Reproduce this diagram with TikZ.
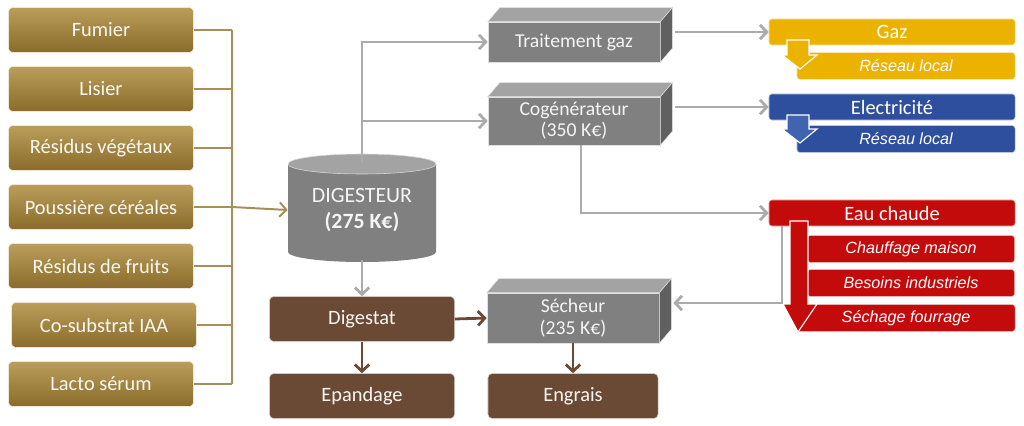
\documentclass[tikz,border=0pt]{standalone}
\usepackage{fontspec}
\setmainfont{Carlito}
\newfontfamily\arialit{Liberation Sans}
\usetikzlibrary{arrows.meta,calc}

\definecolor{goldtop}{HTML}{BA9E5A}
\definecolor{goldbot}{HTML}{8A6B2B}
\definecolor{goldline}{HTML}{A88F58}
\definecolor{greyfront}{HTML}{808080}
\definecolor{greytop}{HTML}{A3A3A3}
\definecolor{greyside}{HTML}{606060}
\definecolor{greyline}{HTML}{ABABAB}
\definecolor{browncol}{HTML}{6B4A35}
\definecolor{gazcol}{HTML}{EBB300}
\definecolor{eleccol}{HTML}{2E4F9E}
\definecolor{elecarrow}{HTML}{4064B0}
\definecolor{eaucol}{HTML}{C30B0B}

\tikzset{
  goldbox/.style={rounded corners=3pt, top color=goldtop, bottom color=goldbot, draw=white!75!goldtop,
    text=white!92!goldtop, minimum width=4.625cm, minimum height=1.125cm, font=\fontsize{14.5}{16}\selectfont},
  greybox/.style={fill=greyfront, draw=white!75!greyfront, text=white!92!greyfront, minimum width=4.3cm,
    align=center, font=\fontsize{14}{15}\selectfont},
  brownbox/.style={rounded corners=3pt, fill=browncol, draw=white!70!browncol, text=white!95!browncol,
    minimum height=1.125cm, font=\fontsize{14.5}{16}\selectfont},
  bar/.style={rounded corners=2pt, fill=#1, draw=white!70!#1, text=white, minimum width=6.15cm,
    minimum height=0.65cm, inner sep=0pt, font=\fontsize{14.5}{16}\selectfont},
  subbar/.style={rounded corners=2pt, fill=#1, draw=white!70!#1, text=white, minimum height=0.67cm,
    inner sep=0pt, font=\arialit\itshape\fontsize{11.5}{13}\selectfont},
  goldwire/.style={goldline, line width=1.4pt},
  garrow/.style={greyline, line width=2pt, -{Straight Barb[length=1.7mm,width=3.6mm]}},
  barrow/.style={browncol, line width=2pt, -{Straight Barb[length=1.7mm,width=3.6mm]}},
  blockarrow/.style={fill=#1, draw=white, line width=0.8pt, line join=miter}
}

\newcommand{\boxfaces}[1]{%
  \filldraw[fill=greytop, draw=white!75!greyfront] (#1.north west) -- ++(0.3cm,0.35cm)
    -- ($(#1.north east)+(0.3cm,0.35cm)$) -- (#1.north east) -- cycle;
  \filldraw[fill=greyside, draw=white!75!greyfront] (#1.north east) -- ++(0.3cm,0.35cm)
    -- ($(#1.south east)+(0.3cm,0.35cm)$) -- (#1.south east) -- cycle;
}

\begin{document}
\begin{tikzpicture}[x=0.025cm, y=-0.025cm]
  \useasboundingbox[fill=white] (0,0) rectangle (1024,426);

  % intrants
  \node[goldbox] (fumier) at (101,30) {Fumier};
  \node[goldbox] (lisier) at (101,89) {Lisier};
  \node[goldbox] (vegetaux) at (101,148) {Résidus végétaux};
  \node[goldbox] (poussiere) at (101,207) {Poussière céréales};
  \node[goldbox] (fruits) at (101,266) {Résidus de fruits};
  \node[goldbox] (cosubstrat) at (104,325) {Co-substrat IAA};
  \node[goldbox] (lacto) at (101,384) {Lacto sérum};

  \coordinate (busT) at (232,30);
  \coordinate (busB) at (232,384);
  \draw[goldwire] (busT) -- (busB);
  \draw[goldwire] (fumier.east) -- (fumier.east -| busT);
  \draw[goldwire] (lisier.east) -- (lisier.east -| busT);
  \draw[goldwire] (vegetaux.east) -- (vegetaux.east -| busT);
  \draw[goldwire] (poussiere.east) -- (poussiere.east -| busT);
  \draw[goldwire] (fruits.east) -- (fruits.east -| busT);
  \draw[goldwire] (cosubstrat.east) -- (cosubstrat.east -| busT);
  \draw[goldwire] (lacto.east) -- (lacto.east -| busT);

  % digesteur
  \fill[greyfront] (288,164) -- (288,252) arc[start angle=180, end angle=0, x radius=74, y radius=10]
    -- (436,164) -- cycle;
  \filldraw[fill=greytop, draw=white!70!greyfront] (362,164) ellipse[x radius=74, y radius=10];
  \node[text=white!92!greyfront, align=center, font=\fontsize{15.5}{19}\selectfont,
    minimum width=3.7cm, minimum height=2.5cm] (dig) at (362,210) {DIGESTEUR\\\textbf{(275 K€)}};
  \coordinate (digtop) at (362,162);
  \draw[goldline, line width=1.4pt, -{Straight Barb[length=1.7mm,width=3.6mm]}]
    (poussiere.east -| busT) -- (dig.west);

  % traitement
  \node[greybox, minimum height=1cm] (traitement) at (574,42) {Traitement gaz};
  \boxfaces{traitement}
  \node[greybox, minimum height=1.2cm] (cogen) at (574,121) {Cogénérateur\\(350 K€)};
  \boxfaces{cogen}
  \node[greybox, minimum height=1.25cm] (secheur) at (573,318) {Sécheur\\(235 K€)};
  \boxfaces{secheur}

  \draw[garrow] (digtop) |- (traitement.west);
  \draw[garrow] (digtop |- cogen.west) -- (cogen.west);

  % digestat
  \node[brownbox, minimum width=4.625cm] (digestat) at (362,319) {Digestat};
  \node[brownbox, minimum width=4.625cm] (epandage) at (362,396) {Epandage};
  \node[brownbox, minimum width=4.25cm] (engrais) at (573,396) {Engrais};
  \draw[garrow] (dig.south) -- (digestat.north);
  \draw[barrow] (digestat.east) -- (secheur.west);
  \draw[barrow] (digestat.south) -- (epandage.north);
  \draw[barrow] (secheur.south) -- (engrais.north);

  % valorisation
  \node[bar=gazcol] (gaz) at (892,32) {Gaz};
  \node[subbar=gazcol, minimum width=5.45cm] (reseaugaz) at (906,66) {Réseau local};
  \filldraw[blockarrow=gazcol] (787,40) -- (809,40) -- (809,55) -- (817,55) -- (800,69)
    -- (782,55) -- (787,55) -- cycle;

  \node[bar=eleccol] (elec) at (892,107) {Electricité};
  \node[subbar=eleccol, minimum width=5.45cm] (reseauelec) at (906,139) {Réseau local};
  \filldraw[blockarrow=elecarrow] (787,115) -- (809,115) -- (809,129) -- (817,129) -- (800,143)
    -- (782,129) -- (787,129) -- cycle;

  \node[bar=eaucol] (eau) at (892,213) {Eau chaude};
  \node[subbar=eaucol, minimum width=5.175cm] (chauffage) at (911,249) {Chauffage maison};
  \node[subbar=eaucol, minimum width=5.175cm] (besoins) at (911,283) {Besoins industriels};
  \node[subbar=eaucol, minimum width=5.45cm] (sechage) at (906,318) {Séchage fourrage};
  \filldraw[blockarrow=eaucol] (790,221) -- (808,221) -- (808,304) -- (817,304) -- (798,332)
    -- (783,304) -- (790,304) -- cycle;

  \draw[garrow] ($(gaz.west -| traitement.east)+(15,0)$) -- (gaz.west);
  \draw[garrow] ($(elec.west -| cogen.east)+(15,0)$) -- (elec.west);
  \draw[garrow] ([xshift=0.175cm]cogen.south) |- (eau.west);
  \coordinate (eaudrop) at (782,303);
  \draw[garrow] (eaudrop |- eau.south) -- (eaudrop) -- ($(secheur.east |- eaudrop)+(14,0)$);
\end{tikzpicture}
\end{document}
